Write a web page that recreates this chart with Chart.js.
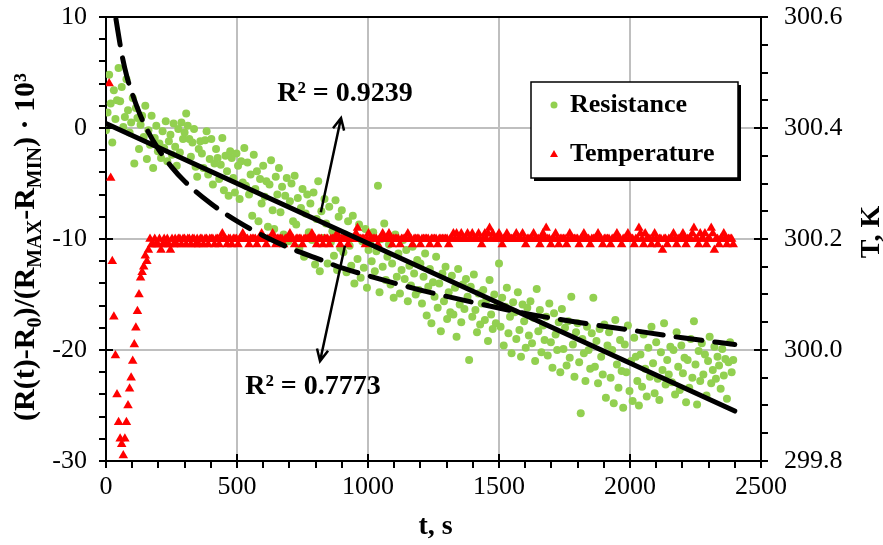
<!DOCTYPE html>
<html>
<head>
<meta charset="utf-8">
<script src="https://cdn.jsdelivr.net/npm/chart.js@4.4.1/dist/chart.umd.min.js"></script>
<style>
  html, body { margin: 0; padding: 0; background: #fff; }
  #wrap { width: 883px; height: 545px; }
</style>
</head>
<body>
<div id="wrap"><canvas id="chart" width="883" height="545"></canvas></div>
<script>
// sampling step of the logger, s
const DT = 6;

// (R(t)-R0)/(Rmax-Rmin)*10^3, one value per sample (rows = 60 s)
const resistance = [
  -0.2, 1.4, 4.8, 2.2, -1.3, 3.4, 0.8, 2.5, 5.4, 2.4,
  3.7, 0.1, 1.0, 4.4, 1.6, -0.4, 0.5, 2.7, -3.2, 1.8,
  0.9, -1.9, 0.3, 1.1, -0.8, 2.0, -2.8, -0.2, -1.5, 1.1,
  -3.6, -0.9, 0.2, -2.1, -1.4, -2.7, -0.3, -1.8, 0.6, -3.0,
  -1.2, -0.6, -2.4, 0.4, -1.7, -3.4, -0.1, -2.2, 0.5, -1.0,
  -0.4, 1.3, 0.2, -1.0, -2.6, -1.3, -0.1, -3.5, -4.4, -1.9,
  -1.2, -2.3, -3.6, -1.1, -0.3, -4.2, -2.8, -1.0, -5.1, -3.2,
  -1.9, -2.7, -4.6, -3.3, -0.9, -5.6, -2.5, -3.9, -6.1, -2.1,
  -2.7, -4.5, -5.8, -2.3, -3.4, -6.4, -3.0, -4.9, -1.8, -5.2,
  -3.1, -6.0, -4.2, -7.9, -2.4, -5.5, -3.9, -8.4, -4.6, -6.8,
  -3.4, -6.2, -4.8, -8.9, -5.1, -2.9, -7.4, -9.1, -4.4, -6.0,
  -3.6, -7.6, -5.3, -9.6, -6.1, -4.5, -10.2, -6.6, -5.0, -8.4,
  -4.3, -8.7, -6.3, -10.8, -7.2, -5.5, -11.6, -7.7, -6.0, -9.4,
  -6.8, -10.1, -5.8, -12.3, -8.2, -4.8, -12.9, -7.5, -9.9, -6.4,
  -8.6, -12.2, -7.1, -10.3, -9.3, -11.5, -6.5, -12.8, -8.0, -10.8,
  -7.4, -11.2, -9.6, -13.0, -8.4, -10.6, -12.4, -7.9, -14.0, -9.9,
  -11.8, -8.7, -13.5, -10.2, -12.6, -9.1, -14.4, -11.0, -10.4, -12.0,
  -9.4, -12.9, -11.1, -5.2, -14.8, -10.0, -12.5, -8.6, -13.7, -11.6,
  -10.5, -14.1, -12.2, -15.3, -9.6, -13.4, -11.3, -14.9, -12.8, -10.1,
  -13.6, -11.0, -15.6, -12.4, -14.2, -10.7, -13.1, -15.0, -11.9, -14.6,
  -12.2, -15.8, -13.4, -11.3, -16.9, -14.3, -12.7, -17.6, -13.9, -15.2,
  -11.6, -16.2, -14.0, -18.3, -13.1, -15.6, -12.5, -17.2, -14.8, -16.6,
  -13.3, -16.8, -14.4, -18.8, -12.7, -15.9, -17.5, -14.1, -16.3, -13.6,
  -15.2, -20.9, -14.3, -17.0, -13.2, -16.4, -18.4, -14.9, -17.7, -15.8,
  -14.6, -17.3, -15.5, -19.2, -13.7, -16.8, -18.1, -15.0, -17.6, -16.0,
  -12.2, -17.9, -15.3, -19.6, -16.1, -14.4, -18.5, -17.0, -20.3, -15.7,
  -16.6, -19.0, -14.8, -18.2, -20.6, -15.9, -17.4, -19.8, -16.2, -18.7,
  -15.6, -19.4, -17.1, -21.0, -14.5, -18.3, -16.4, -20.2, -17.8, -19.1,
  -17.0, -20.5, -15.8, -19.3, -21.6, -16.7, -18.6, -20.0, -17.5, -22.0,
  -16.3, -19.9, -18.0, -21.4, -17.4, -20.7, -15.2, -19.5, -22.4, -18.4,
  -17.6, -21.1, -25.7, -19.0, -20.3, -22.8, -17.9, -20.0, -21.7, -18.5,
  -15.3, -21.5, -19.2, -23.0, -18.1, -20.6, -22.2, -17.7, -24.3, -19.6,
  -18.4, -22.5, -20.0, -24.8, -17.3, -21.3, -23.4, -19.1, -21.9, -25.2,
  -19.5, -22.0, -17.8, -23.7, -21.0, -24.6, -18.9, -20.6, -22.8, -25.0,
  -20.4, -23.3, -18.6, -21.7, -24.2, -19.8, -22.4, -17.9, -21.2, -23.9,
  -19.3, -22.6, -24.5, -20.2, -21.8, -17.6, -23.1, -20.9, -22.2, -19.7,
  -22.9, -20.0, -24.0, -18.4, -21.5, -23.6, -19.6, -22.1, -20.7, -24.7,
  -20.9, -23.4, -19.0, -22.5, -17.4, -21.3, -24.9, -20.1, -22.8, -19.4,
  -22.2, -20.4, -24.1, -21.0, -18.8, -23.0, -21.8, -19.7, -22.6, -20.6,
  -21.4, -23.5, -19.9, -22.3, -20.8, -24.4, -21.1, -19.3, -22.0, -20.9
];

// temperature, K, same sampling (first two samples missing)
const temperature = [
  null, null, 300.48, 300.31, 300.16, 300.06, 299.99, 299.92, 299.87, 299.84,
  299.83, 299.81, 299.84, 299.87, 299.90, 299.93, 299.95, 299.98, 300.01, 300.04,
  300.07, 300.10, 300.13, 300.14, 300.15, 300.17, 300.16, 300.18, 300.2, 300.19,
  300.19, 300.2, 300.19, 300.19, 300.2, 300.18, 300.19, 300.2, 300.19, 300.2,
  300.19, 300.18, 300.2, 300.19, 300.2, 300.19, 300.2, 300.2, 300.19, 300.2,
  300.2, 300.19, 300.2, 300.2, 300.19, 300.2, 300.2, 300.19, 300.2, 300.19,
  300.2, 300.2, 300.19, 300.2, 300.2, 300.19, 300.2, 300.2, 300.2, 300.19,
  300.2, 300.2, 300.19, 300.2, 300.21, 300.2, 300.2, 300.19, 300.2, 300.2,
  300.19, 300.2, 300.2, 300.2, 300.19, 300.2, 300.2, 300.21, 300.2, 300.2,
  300.2, 300.19, 300.2, 300.2, 300.2, 300.2, 300.19, 300.2, 300.2, 300.21,
  300.2, 300.2, 300.19, 300.2, 300.2, 300.2, 300.21, 300.2, 300.19, 300.2,
  300.2, 300.2, 300.2, 300.19, 300.2, 300.2, 300.2, 300.21, 300.2, 300.2,
  300.19, 300.2, 300.2, 300.2, 300.2, 300.19, 300.2, 300.2, 300.2, 300.2,
  300.2, 300.21, 300.2, 300.2, 300.19, 300.2, 300.2, 300.2, 300.19, 300.2,
  300.2, 300.2, 300.19, 300.2, 300.2, 300.2, 300.2, 300.21, 300.2, 300.19,
  300.2, 300.2, 300.2, 300.2, 300.19, 300.2, 300.2, 300.2, 300.2, 300.21,
  300.22, 300.2, 300.2, 300.2, 300.2, 300.19, 300.2, 300.21, 300.2, 300.2,
  300.2, 300.2, 300.2, 300.19, 300.2, 300.2, 300.21, 300.2, 300.2, 300.2,
  300.21, 300.2, 300.19, 300.2, 300.2, 300.2, 300.2, 300.19, 300.2, 300.2,
  300.2, 300.2, 300.21, 300.2, 300.2, 300.19, 300.2, 300.2, 300.2, 300.2,
  300.19, 300.2, 300.2, 300.2, 300.2, 300.2, 300.19, 300.2, 300.2, 300.2,
  300.2, 300.19, 300.2, 300.2, 300.2, 300.2, 300.2, 300.2, 300.19, 300.2,
  300.2, 300.21, 300.2, 300.21, 300.2, 300.2, 300.21, 300.2, 300.2, 300.2,
  300.21, 300.2, 300.2, 300.21, 300.2, 300.2, 300.2, 300.21, 300.2, 300.19,
  300.2, 300.21, 300.2, 300.21, 300.22, 300.2, 300.21, 300.2, 300.2, 300.2,
  300.21, 300.2, 300.19, 300.2, 300.2, 300.21, 300.2, 300.2, 300.2, 300.2,
  300.2, 300.21, 300.2, 300.2, 300.2, 300.21, 300.2, 300.19, 300.2, 300.2,
  300.2, 300.2, 300.21, 300.2, 300.2, 300.2, 300.19, 300.2, 300.21, 300.2,
  300.22, 300.2, 300.2, 300.19, 300.2, 300.2, 300.21, 300.2, 300.19, 300.2,
  300.2, 300.2, 300.2, 300.19, 300.2, 300.21, 300.2, 300.2, 300.2, 300.2,
  300.2, 300.19, 300.2, 300.2, 300.21, 300.2, 300.2, 300.2, 300.19, 300.2,
  300.2, 300.2, 300.2, 300.21, 300.2, 300.2, 300.19, 300.2, 300.2, 300.2,
  300.2, 300.19, 300.2, 300.2, 300.2, 300.21, 300.2, 300.2, 300.19, 300.2,
  300.2, 300.2, 300.21, 300.2, 300.2, 300.2, 300.19, 300.2, 300.2, 300.22,
  300.21, 300.2, 300.19, 300.21, 300.2, 300.2, 300.2, 300.19, 300.2, 300.21,
  300.2, 300.19, 300.2, 300.2, 300.18, 300.2, 300.2, 300.19, 300.2, 300.2,
  300.2, 300.21, 300.2, 300.19, 300.2, 300.2, 300.2, 300.21, 300.2, 300.19,
  300.2, 300.2, 300.2, 300.21, 300.22, 300.2, 300.2, 300.19, 300.21, 300.2,
  300.2, 300.21, 300.19, 300.2, 300.2, 300.22, 300.21, 300.18, 300.2, 300.2,
  300.19, 300.2, 300.2, 300.21, 300.2, 300.19, 300.2, 300.2, 300.2, 300.19
];

// linear trend line (R^2 = 0.9239)
const linFitT = [0, 2400];
const linFitV = [0.4, -25.5];

// dashed trend line (R^2 = 0.7773)
const logFitT = [38, 60, 80, 100, 130, 160, 200, 250, 300, 400, 500, 600, 700, 800, 900, 1000, 1200, 1400, 1600, 1800, 2000, 2200, 2400];
const logFitV = [9.8, 6.7, 4.6, 3.1, 1.2, -0.3, -1.9, -3.5, -4.8, -6.8, -8.4, -9.7, -10.8, -11.7, -12.6, -13.3, -14.6, -15.7, -16.7, -17.5, -18.2, -18.9, -19.5];

// tick labels
const xTicks = [0, 500, 1000, 1500, 2000, 2500];
const yTicks = [-30, -20, -10, 0, 10];
const tTicks = [299.8, 300.0, 300.2, 300.4, 300.6];

const serif = '"Liberation Serif", "Times New Roman", serif';
Chart.defaults.font.family = serif;
Chart.defaults.color = '#000';

const GRID = '#bfbfbf';
const near = (list, v, eps) => list.some(t => Math.abs(t - v) < eps);

function toXY(xs, ys) {
    return xs.map((x, i) => ({ x: x, y: ys[i] }));
}
function series(vals) {
    const pts = [];
    vals.forEach((v, i) => { if (v !== null) pts.push({ x: i * DT, y: v }); });
    return pts;
}

// rich text: [text, isSubscript]
function drawRich(ctx, parts, cx, cy, size, rot) {
    const big = 'bold ' + size + 'px ' + serif;
    const small = 'bold ' + Math.round(size * 0.66) + 'px ' + serif;
    let total = 0;
    parts.forEach(p => { ctx.font = p[1] ? small : big; total += ctx.measureText(p[0]).width; });
    ctx.save();
    ctx.translate(cx, cy);
    ctx.rotate(rot);
    ctx.textBaseline = 'alphabetic';
    ctx.textAlign = 'left';
    ctx.fillStyle = '#000';
    let x = -total / 2;
    const base = size * 0.33;
    parts.forEach(p => {
        ctx.font = p[1] ? small : big;
        ctx.fillText(p[0], x, p[1] ? base + size * 0.22 : base);
        x += ctx.measureText(p[0]).width;
    });
    ctx.restore();
}

function arrow(ctx, x1, y1, x2, y2) {
    const a = Math.atan2(y2 - y1, x2 - x1);
    const h = 13;
    ctx.beginPath();
    ctx.moveTo(x1, y1);
    ctx.lineTo(x2, y2);
    ctx.moveTo(x2 - h * Math.cos(a - 0.45), y2 - h * Math.sin(a - 0.45));
    ctx.lineTo(x2, y2);
    ctx.lineTo(x2 - h * Math.cos(a + 0.45), y2 - h * Math.sin(a + 0.45));
    ctx.stroke();
}

const decor = {
    id: 'decor',
    afterDraw(chart) {
        const ctx = chart.ctx;
        const a = chart.chartArea;
        const sx = chart.scales.x, sy = chart.scales.y, st = chart.scales.y2;
        ctx.save();
        ctx.strokeStyle = '#000';
        ctx.lineWidth = 2;
        // top frame line
        ctx.beginPath();
        ctx.moveTo(a.left, a.top);
        ctx.lineTo(a.right, a.top);
        ctx.stroke();
        // major ticks cross the axes
        ctx.beginPath();
        xTicks.forEach(v => { const p = sx.getPixelForValue(v); ctx.moveTo(p, a.bottom); ctx.lineTo(p, a.bottom - 7); });
        yTicks.forEach(v => { const p = sy.getPixelForValue(v); ctx.moveTo(a.left, p); ctx.lineTo(a.left + 7, p); });
        tTicks.forEach(v => { const p = st.getPixelForValue(v); ctx.moveTo(a.right, p); ctx.lineTo(a.right - 7, p); });
        ctx.stroke();

        // R^2 labels and arrows
        ctx.lineWidth = 2.5;
        arrow(ctx, sx.getPixelForValue(820), sy.getPixelForValue(-7.6), sx.getPixelForValue(897), sy.getPixelForValue(0.9));
        arrow(ctx, sx.getPixelForValue(912), sy.getPixelForValue(-10.6), sx.getPixelForValue(817), sy.getPixelForValue(-21.0));
        ctx.fillStyle = '#000';
        ctx.font = 'bold 28px ' + serif;
        ctx.textAlign = 'center';
        ctx.textBaseline = 'middle';
        ctx.fillText('R² = 0.9239', sx.getPixelForValue(912), sy.getPixelForValue(3.1));
        ctx.fillText('R² = 0.7773', sx.getPixelForValue(790), sy.getPixelForValue(-23.3));

        // legend
        const lx = 531, ly = 82, lw = 207, lh = 96;
        ctx.fillStyle = '#000';
        ctx.fillRect(lx + 3, ly + 3, lw, lh);
        ctx.fillStyle = '#fff';
        ctx.fillRect(lx, ly, lw, lh);
        ctx.lineWidth = 1.5;
        ctx.strokeRect(lx, ly, lw, lh);
        ctx.fillStyle = '#92d050';
        ctx.beginPath();
        ctx.arc(lx + 23, ly + 23, 3.5, 0, Math.PI * 2);
        ctx.fill();
        ctx.fillStyle = '#ff0000';
        ctx.beginPath();
        ctx.moveTo(lx + 23, ly + 68);
        ctx.lineTo(lx + 27, ly + 75);
        ctx.lineTo(lx + 19, ly + 75);
        ctx.closePath();
        ctx.fill();
        ctx.fillStyle = '#000';
        ctx.font = 'bold 26px ' + serif;
        ctx.textAlign = 'left';
        ctx.fillText('Resistance', lx + 39, ly + 23);
        ctx.fillText('Temperature', lx + 39, ly + 72);

        // axis titles
        ctx.font = 'bold 28px ' + serif;
        ctx.textAlign = 'center';
        ctx.fillText('t, s', (a.left + a.right) / 2 + 2, 527);
        ctx.save();
        ctx.translate(872, 232);
        ctx.rotate(-Math.PI / 2);
        ctx.fillText('T, K', 0, 0);
        ctx.restore();
        drawRich(ctx, [['(R(t)-R', 0], ['0', 1], [')/(R', 0], ['MAX', 1], ['-R', 0], ['MIN', 1], [') · 10³', 0]], 24, 247, 30, -Math.PI / 2);
        ctx.restore();
    }
};

function axisGrid(major) {
    return {
        color: c => (c.tick && major(c.tick.value)) ? GRID : 'rgba(0,0,0,0)',
        lineWidth: 2,
        tickColor: '#000',
        tickWidth: 2,
        tickLength: 7
    };
}

// vertical axes: fixed width, no extra room for the end labels
function fitSide(width) {
    return s => {
        s.width = width;
        s.paddingTop = 0;
        s.paddingBottom = 0;
    };
}

new Chart(document.getElementById('chart').getContext('2d'), {
    type: 'scatter',
    data: {
        datasets: [
            {
                label: 'R2 linear',
                type: 'line',
                data: toXY(linFitT, linFitV),
                borderColor: '#000',
                borderWidth: 5,
                borderCapStyle: 'round',
                pointRadius: 0,
                yAxisID: 'y',
                order: 0
            },
            {
                label: 'R2 dashed',
                type: 'line',
                data: toXY(logFitT, logFitV),
                borderColor: '#000',
                borderWidth: 5,
                borderDash: [26, 13],
                borderCapStyle: 'round',
                cubicInterpolationMode: 'monotone',
                pointRadius: 0,
                yAxisID: 'y',
                order: 1
            },
            {
                label: 'Temperature',
                data: series(temperature),
                pointStyle: 'triangle',
                pointRadius: 5.5,
                backgroundColor: '#ff0000',
                borderColor: '#ff0000',
                borderWidth: 0,
                yAxisID: 'y2',
                order: 2
            },
            {
                label: 'Resistance',
                data: series(resistance),
                pointRadius: 4,
                backgroundColor: '#92d050',
                borderWidth: 0,
                yAxisID: 'y',
                order: 3
            }
        ]
    },
    options: {
        responsive: false,
        animation: false,
        layout: { padding: { top: 17, left: 0, right: 0, bottom: 0 } },
        plugins: { legend: { display: false }, tooltip: { enabled: false } },
        scales: {
            x: {
                type: 'linear',
                min: 0,
                max: 2500,
                ticks: {
                    stepSize: 100,
                    autoSkip: false,
                    maxRotation: 0,
                    minRotation: 0,
                    padding: 4,
                    font: { size: 26 },
                    callback: v => near(xTicks, v, 1e-6) ? String(v) : ''
                },
                grid: axisGrid(v => near(xTicks, v, 1e-6)),
                border: { color: '#000', width: 2 },
                afterFit: s => { s.height = 84; }
            },
            y: {
                position: 'left',
                min: -30,
                max: 10,
                ticks: {
                    stepSize: 2,
                    autoSkip: false,
                    padding: 12,
                    font: { size: 26 },
                    callback: v => near(yTicks, v, 1e-6) ? String(v) : ''
                },
                grid: axisGrid(v => near(yTicks, v, 1e-6)),
                border: { color: '#000', width: 2 },
                afterFit: fitSide(106)
            },
            y2: {
                position: 'right',
                min: 299.8,
                max: 300.6,
                ticks: {
                    stepSize: 0.05,
                    autoSkip: false,
                    padding: 16,
                    font: { size: 26 },
                    callback: v => near(tTicks, v, 1e-4) ? v.toFixed(1) : ''
                },
                grid: Object.assign(axisGrid(() => false), { drawOnChartArea: false }),
                border: { color: '#000', width: 2 },
                afterFit: fitSide(122)
            }
        }
    },
    plugins: [decor]
});
</script>
</body>
</html>
